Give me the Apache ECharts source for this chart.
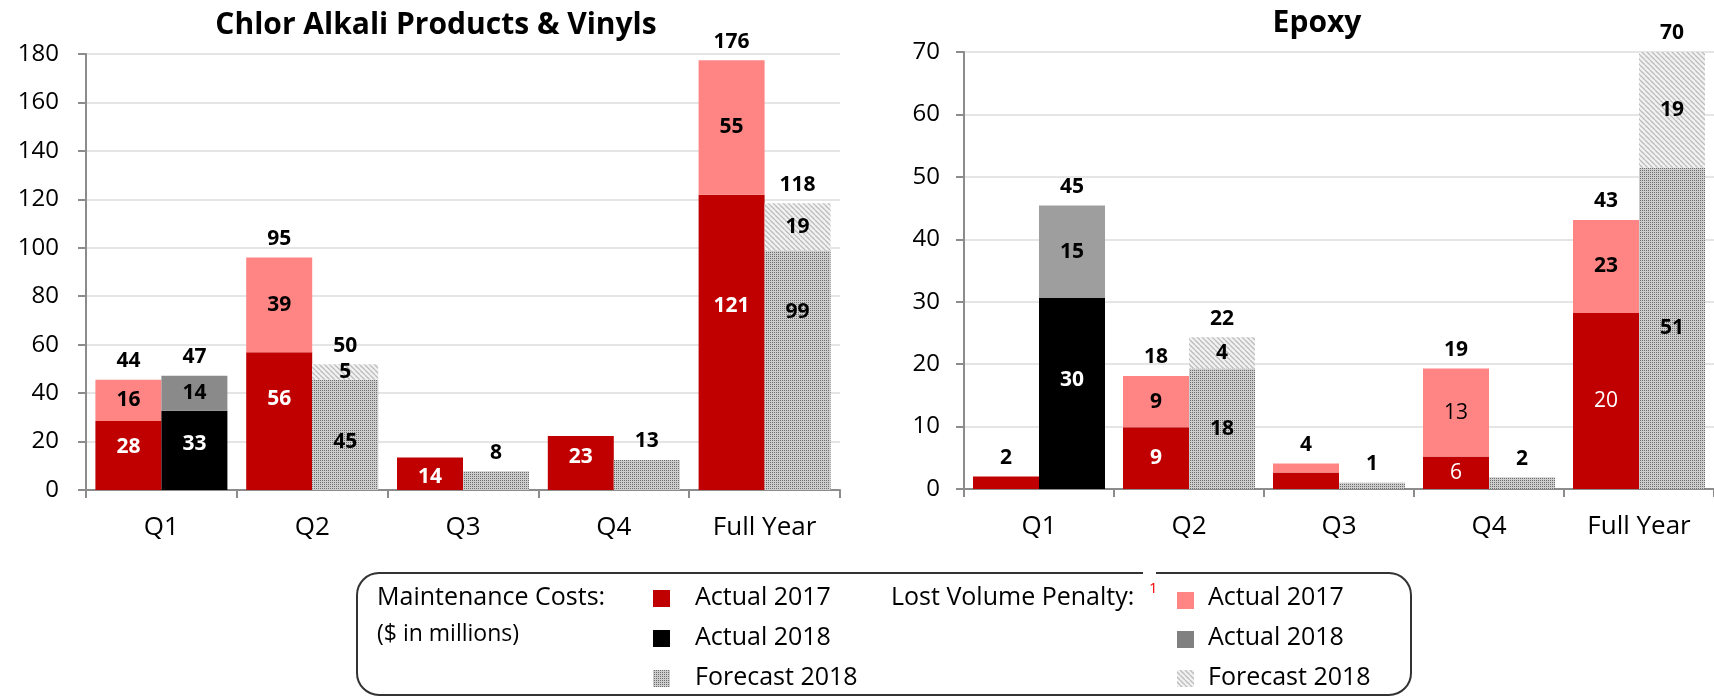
<!DOCTYPE html>
<html>
<head>
<meta charset="utf-8">
<script src="https://cdn.jsdelivr.net/npm/echarts@6/dist/echarts.min.js"></script>
<style>
  html, body { margin: 0; padding: 0; background: #fff; }
  #chart { width: 1714px; height: 699px; }
</style>
</head>
<body>
<div id="chart"></div>
<script>
const categories = ['Q1', 'Q2', 'Q3', 'Q4', 'Full Year']

// Chlor Alkali Products & Vinyls (bar heights as drawn)
const caMaint2017 = [28.5, 56.9, 13.4, 22.3, 121.9]
const caLost2017 = [17.0, 39.1, null, null, 55.5]
const caMaint2018 = [32.7, null, null, null, null]
const caLost2018 = [14.5, null, null, null, null]
const caMaintFcst = [null, 45.5, 7.7, 12.4, 98.9]
const caLostFcst = [null, 6.4, null, null, 19.5]
// printed labels
const caMaint2017Lbl = ['28', '56', '14', '23', '121']
const caLost2017Lbl = ['16', '39', '', '', '55']
const caMaint2018Lbl = ['33', '', '', '', '']
const caLost2018Lbl = ['14', '', '', '', '']
const caMaintFcstLbl = ['', '45', '', '', '99']
const caLostFcstLbl = ['', '5', '', '', '19']
const caTotal2017Lbl = ['44', '95', '', '', '176']
const caTotal2018Lbl = ['47', '50', '8', '13', '118']

// Epoxy (bar heights as drawn)
const epMaint2017 = [2.0, 9.9, 2.65, 5.2, 28.2]
const epLost2017 = [null, 8.2, 1.45, 14.1, 14.9]
const epMaint2018 = [30.6, null, null, null, null]
const epLost2018 = [14.8, null, null, null, null]
const epMaintFcst = [null, 19.3, 1.0, 1.9, 51.5]
const epLostFcst = [null, 5.0, null, null, 18.5]
// printed labels
const epMaint2017Lbl = ['', '9', '', '6', '20']
const epLost2017Lbl = ['', '9', '', '13', '23']
const epMaint2018Lbl = ['30', '', '', '', '']
const epLost2018Lbl = ['15', '', '', '', '']
const epMaintFcstLbl = ['', '18', '', '', '51']
const epLostFcstLbl = ['', '4', '', '', '19']
const epTotal2017Lbl = ['2', '18', '4', '19', '43']
const epTotal2018Lbl = ['45', '22', '1', '2', '70']

const font = '"Open Sans", "DejaVu Sans", sans-serif'

// fill patterns
const makeDots = () => {
  const c = document.createElement('canvas')
  c.width = 2; c.height = 2
  const g = c.getContext('2d')
  g.fillStyle = '#cdcdcd'; g.fillRect(0, 0, 2, 2)
  g.fillStyle = '#6e6e6e'; g.fillRect(0, 0, 1, 1)
  return c
}
const makeHatch = () => {
  const s = 5
  const c = document.createElement('canvas')
  c.width = s; c.height = s
  const g = c.getContext('2d')
  g.fillStyle = '#f2f2f2'; g.fillRect(0, 0, s, s)
  g.strokeStyle = '#bcbcbc'; g.lineWidth = 1.3
  for (const k of [-s, 0, s]) {
    g.beginPath(); g.moveTo(0, k); g.lineTo(s, s + k); g.stroke()
  }
  return c
}
const dots = { image: makeDots(), repeat: 'repeat' }
const hatch = { image: makeHatch(), repeat: 'repeat' }

const RED = '#c00000'
const PINK = '#ff8585'

const seg = (axis, stack, data, labels, color, textColor, nudge = [], light = []) => ({
  type: 'bar',
  stack: stack + axis,
  xAxisIndex: axis,
  yAxisIndex: axis,
  barWidth: 66,
  barGap: '0%',
  itemStyle: { color },
  label: {
    show: true,
    position: 'inside',
    color: textColor,
    fontFamily: font,
    fontSize: 21,
    fontWeight: 'bold',
    formatter: p => labels[p.dataIndex]
  },
  data: data.map((v, i) => ({
    value: v,
    label: {
      offset: [0, -(nudge[i] || 0)],
      fontWeight: light.includes(i) ? 'normal' : 'bold'
    }
  }))
})

// invisible zero-height bar on top of each stack, carrying the total label
const total = (axis, stack, labels) => ({
  type: 'bar',
  stack: stack + axis,
  xAxisIndex: axis,
  yAxisIndex: axis,
  barWidth: 66,
  barGap: '0%',
  itemStyle: { color: 'rgba(0,0,0,0)' },
  label: {
    show: true,
    position: 'top',
    distance: 8,
    color: '#000',
    fontFamily: font,
    fontSize: 21,
    fontWeight: 'bold',
    formatter: p => labels[p.dataIndex]
  },
  data: labels.map(() => 0)
})

const xAxisBase = gridIndex => ({
  type: 'category',
  gridIndex,
  data: categories,
  axisLine: { lineStyle: { color: '#8c8c8c', width: 2 } },
  axisTick: { show: true, length: 8, lineStyle: { color: '#8c8c8c', width: 2 } },
  axisLabel: { color: '#000', fontFamily: font, fontSize: 26, margin: 25 }
})

const yAxisBase = (gridIndex, max, interval, margin) => ({
  type: 'value',
  gridIndex,
  min: 0,
  max,
  interval,
  axisLine: { show: true, lineStyle: { color: '#8c8c8c', width: 2 } },
  axisTick: { show: true, inside: false, length: 8, lineStyle: { color: '#8c8c8c', width: 2 } },
  axisLabel: { color: '#000', fontFamily: font, fontSize: 24, margin },
  splitLine: { lineStyle: { color: '#dcdcdc', width: 1.5 } }
})

const legendText = (x, y, text, size = 25) => ({
  type: 'text', x, y, z: 10,
  style: { text, fill: '#000', fontFamily: font, fontSize: size, verticalAlign: 'middle' }
})
const legendIcon = (x, y, fill) => ({
  type: 'rect', z: 10, shape: { x, y, width: 17, height: 17 }, style: { fill }
})

const chart = echarts.init(document.getElementById('chart'))

chart.setOption({
  animation: false,
  grid: [
    { left: 86, top: 54, width: 754, height: 436 },
    { left: 964, top: 52, width: 755, height: 437 }
  ],
  xAxis: [xAxisBase(0), xAxisBase(1)],
  yAxis: [yAxisBase(0, 180, 20, 27), yAxisBase(1, 70, 10, 24)],
  series: [
    seg(0, 'a', caMaint2017, caMaint2017Lbl, RED, '#fff', [8, 22, -3, 6, 36]),
    seg(0, 'a', caLost2017, caLost2017Lbl, PINK, '#000'),
    total(0, 'a', caTotal2017Lbl),
    seg(0, 'b', caMaint2018, caMaint2018Lbl, '#000', '#fff', [6]),
    seg(0, 'b', caLost2018, caLost2018Lbl, '#8a8a8a', '#000'),
    seg(0, 'b', caMaintFcst, caMaintFcstLbl, dots, '#000', [0, -7, 0, 0, 58]),
    seg(0, 'b', caLostFcst, caLostFcstLbl, hatch, '#000'),
    total(0, 'b', caTotal2018Lbl),

    seg(1, 'a', epMaint2017, epMaint2017Lbl, RED, '#fff', [], [3, 4]),
    seg(1, 'a', epLost2017, epLost2017Lbl, PINK, '#000', [], [3]),
    total(1, 'a', epTotal2017Lbl),
    seg(1, 'b', epMaint2018, epMaint2018Lbl, '#000', '#fff', [13]),
    seg(1, 'b', epLost2018, epLost2018Lbl, '#9e9e9e', '#000'),
    seg(1, 'b', epMaintFcst, epMaintFcstLbl, dots, '#000'),
    seg(1, 'b', epLostFcst, epLostFcstLbl, hatch, '#000'),
    total(1, 'b', epTotal2018Lbl)
  ],
  graphic: [
    {
      type: 'text', x: 436, y: 25,
      style: { text: 'Chlor Alkali Products & Vinyls', fill: '#000', fontFamily: font, fontSize: 30, fontWeight: 'bold', align: 'center', verticalAlign: 'middle' }
    },
    {
      type: 'text', x: 1317, y: 23,
      style: { text: 'Epoxy', fill: '#000', fontFamily: font, fontSize: 30, fontWeight: 'bold', align: 'center', verticalAlign: 'middle' }
    },
    {
      type: 'rect', z: 9,
      shape: { x: 357, y: 573, width: 1054, height: 122, r: 22 },
      style: { fill: '#fff', stroke: '#333', lineWidth: 2 }
    },
    { type: 'rect', z: 10, shape: { x: 1143, y: 569, width: 13, height: 9 }, style: { fill: '#fff' } },
    legendText(377, 598, 'Maintenance Costs:'),
    legendText(377, 634, '($ in millions)', 23),
    legendIcon(653, 590, RED),
    legendIcon(653, 630, '#000'),
    legendIcon(653, 670, dots),
    legendText(695, 598, 'Actual 2017'),
    legendText(695, 638, 'Actual 2018'),
    legendText(695, 678, 'Forecast 2018'),
    legendText(891, 598, 'Lost Volume Penalty:'),
    {
      type: 'text', x: 1149, y: 589, z: 10,
      style: { text: '1', fill: '#ff0000', fontFamily: font, fontSize: 15, verticalAlign: 'middle' }
    },
    legendIcon(1177, 592, PINK),
    legendIcon(1177, 631, '#808080'),
    legendIcon(1177, 670, hatch),
    legendText(1208, 598, 'Actual 2017'),
    legendText(1208, 638, 'Actual 2018'),
    legendText(1208, 678, 'Forecast 2018')
  ]
})
</script>
</body>
</html>
